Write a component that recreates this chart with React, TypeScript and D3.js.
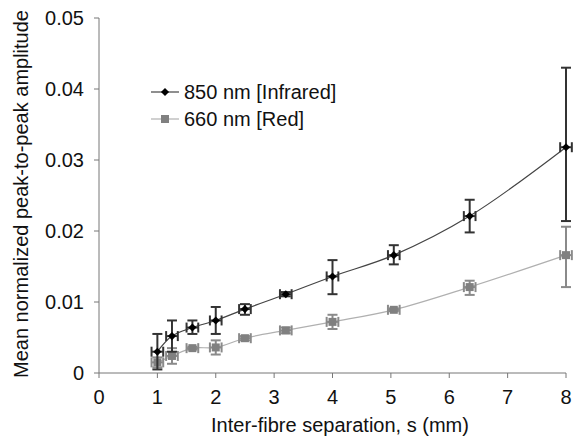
import * as d3 from "d3";

// 850 nm (infrared) series
const sepIR = [1, 1.25, 1.6, 2, 2.5, 3.2, 4, 5.05, 6.35, 8];
const ampIR = [0.003, 0.0052, 0.0064, 0.0074, 0.009, 0.0111, 0.0136, 0.0166, 0.0221, 0.0318];
const lowIR = [0.0005, 0.003, 0.0055, 0.0055, 0.0082, 0.0108, 0.0111, 0.0153, 0.0198, 0.0214];
const highIR = [0.0055, 0.0074, 0.0074, 0.0093, 0.0097, 0.0114, 0.0159, 0.018, 0.0244, 0.043];

// 660 nm (red) series
const sepRed = [1, 1.25, 1.6, 2, 2.5, 3.2, 4, 5.05, 6.35, 8];
const ampRed = [0.0015, 0.0024, 0.0035, 0.0036, 0.0049, 0.006, 0.0072, 0.0089, 0.0121, 0.0166];
const lowRed = [0.0008, 0.0013, 0.0033, 0.0026, 0.0046, 0.0056, 0.0062, 0.0087, 0.011, 0.0121];
const highRed = [0.0022, 0.0035, 0.0037, 0.0046, 0.0052, 0.0064, 0.0082, 0.0091, 0.013, 0.0206];

const sepErr = 0.1;
const xTicks = [0, 1, 2, 3, 4, 5, 6, 7, 8];
const yTicks = [0, 0.01, 0.02, 0.03, 0.04, 0.05];
const yTickLabels = ["0", "0.01", "0.02", "0.03", "0.04", "0.05"];

const font = "Liberation Sans, Arial, sans-serif";
const fs = 20;

type Pt = { x: number; y: number; lo: number; hi: number };

function App() {
  const width = 576;
  const height = 439;
  const x = d3.scaleLinear().domain([0, 8]).range([99, 566]);
  const y = d3.scaleLinear().domain([0, 0.05]).range([373, 18]);

  const ir: Pt[] = sepIR.map((s, i) => ({ x: s, y: ampIR[i], lo: lowIR[i], hi: highIR[i] }));
  const red: Pt[] = sepRed.map((s, i) => ({ x: s, y: ampRed[i], lo: lowRed[i], hi: highRed[i] }));

  const line = d3
    .line<Pt>()
    .x((d) => x(d.x))
    .y((d) => y(d.y))
    .curve(d3.curveCatmullRom.alpha(0.5));

  const diamond = d3.symbol().type(d3.symbolDiamond2).size(42)();
  const square = d3.symbol().type(d3.symbolSquare).size(64)();

  // vertical (amplitude) and horizontal (separation) error bars with caps
  const errBars = (data: Pt[], color: string, w: number) =>
    data.map((d, i) => {
      const cx = x(d.x);
      const cy = y(d.y);
      const x0 = x(d.x - sepErr);
      const x1 = x(d.x + sepErr);
      const yLo = y(d.lo);
      const yHi = y(d.hi);
      return (
        <g key={i} stroke={color} strokeWidth={w} fill="none">
          <line x1={cx} x2={cx} y1={yLo} y2={yHi} />
          <line x1={cx - 5} x2={cx + 5} y1={yLo} y2={yLo} />
          <line x1={cx - 5} x2={cx + 5} y1={yHi} y2={yHi} />
          <line x1={x0} x2={x1} y1={cy} y2={cy} />
          <line x1={x0} x2={x0} y1={cy - 5} y2={cy + 5} />
          <line x1={x1} x2={x1} y1={cy - 5} y2={cy + 5} />
        </g>
      );
    });

  return (
    <svg
      width={width}
      height={height}
      style={{ position: "absolute", left: 0, top: 0, background: "#fff" }}
      fontFamily={font}
    >
      {/* axes */}
      <line x1={x(0)} x2={x(8)} y1={y(0)} y2={y(0)} stroke="#777" />
      <line x1={x(0)} x2={x(0)} y1={y(0)} y2={y(0.05)} stroke="#777" />
      {xTicks.map((t) => (
        <g key={t}>
          <line x1={x(t)} x2={x(t)} y1={y(0)} y2={y(0) + 5} stroke="#777" />
          <text x={x(t)} y={404} textAnchor="middle" fontSize={fs} fill="#111">
            {t}
          </text>
        </g>
      ))}
      {yTicks.map((t, i) => (
        <g key={t}>
          <line x1={x(0) - 5} x2={x(0)} y1={y(t)} y2={y(t)} stroke="#777" />
          <text x={84} y={y(t)} dy="0.35em" textAnchor="end" fontSize={fs} fill="#111">
            {yTickLabels[i]}
          </text>
        </g>
      ))}
      <text x={340} y={432} textAnchor="middle" fontSize={fs} fill="#111">
        Inter-fibre separation, s (mm)
      </text>
      <text
        transform="translate(21,194) rotate(-90)"
        textAnchor="middle"
        dy="0.35em"
        fontSize={fs}
        fill="#111"
      >
        Mean normalized peak-to-peak amplitude
      </text>

      {/* red series */}
      <path d={line(red) ?? ""} fill="none" stroke="#b0b0b0" strokeWidth={1.2} />
      {errBars(red, "#8a8a8a", 2)}
      {red.map((d, i) => (
        <path key={i} d={square ?? ""} transform={`translate(${x(d.x)},${y(d.y)})`} fill="#808080" />
      ))}

      {/* infrared series */}
      <path d={line(ir) ?? ""} fill="none" stroke="#444" strokeWidth={1.2} />
      {errBars(ir, "#333", 2)}
      {ir.map((d, i) => (
        <path key={i} d={diamond ?? ""} transform={`translate(${x(d.x)},${y(d.y)})`} fill="#000" />
      ))}

      {/* legend */}
      <line x1={151} x2={179} y1={92} y2={92} stroke="#444" strokeWidth={1.2} />
      <path d={diamond ?? ""} transform="translate(165,92)" fill="#000" />
      <text x={184} y={92} dy="0.35em" fontSize={fs} fill="#111">
        850 nm [Infrared]
      </text>
      <line x1={151} x2={179} y1={119} y2={119} stroke="#b0b0b0" strokeWidth={1.2} />
      <path d={square ?? ""} transform="translate(165,119)" fill="#808080" />
      <text x={184} y={119} dy="0.35em" fontSize={fs} fill="#111">
        660 nm [Red]
      </text>
    </svg>
  );
}

export default App;
